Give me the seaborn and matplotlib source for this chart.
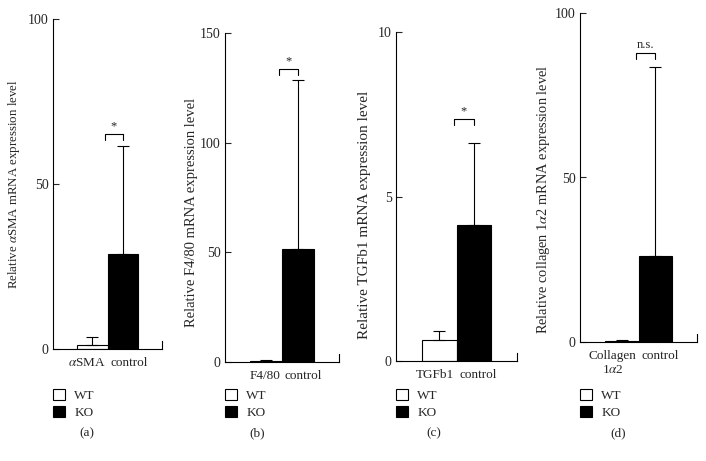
# ==========================================
# RELATIVE mRNA EXPRESSION: WT vs KO
# ==========================================

import numpy as np
import pandas as pd
import matplotlib
matplotlib.use("Agg")
import matplotlib.pyplot as plt
from matplotlib.patches import Patch
import seaborn as sns

# ==========================================
# DATA
# ==========================================

groups = ["WT", "KO"]

tick_labels = [
    ["$\\alpha$SMA", "control"],
    ["F4/80", "control"],
    ["TGFb1", "control"],
    ["Collagen\n1$\\alpha$2", "control"],
]

y_labels = [
    "Relative $\\alpha$SMA mRNA expression level",
    "Relative F4/80 mRNA expression level",
    "Relative TGFb1 mRNA expression level",
    "Relative collagen 1$\\alpha$2 mRNA expression level",
]

wt_mean = [1.3, 0.5, 0.64, 0.3]
wt_sd = [2.3, 0.4, 0.27, 0.3]

ko_mean = [28.8, 51.5, 4.13, 26.1]
ko_sd = [32.7, 77.1, 2.5, 57.5]

y_max = [100, 150, 10, 100]
y_step = [50, 50, 5, 50]

significance = ["*", "*", "*", "n.s."]
bracket_y = [65, 133.6, 7.35, 87.8]

panel_names = ["(a)", "(b)", "(c)", "(d)"]

# ==========================================
# STYLE
# ==========================================

sns.set_style("white")
plt.rcParams["font.family"] = ["Liberation Serif", "DejaVu Serif"]
plt.rcParams["mathtext.fontset"] = "stix"
plt.rcParams["font.size"] = 9.5

# ==========================================
# LAYOUT (pixel boxes of each panel, 706x461)
# ==========================================

W, H = 706, 461

# left, right, top, bottom of each axes in pixels
boxes = [
    (53, 162, 19, 349),
    (225, 339, 33, 362),
    (396, 517, 32, 361),
    (580, 697, 13, 342),
]

label_size = [9.3, 10.5, 11.0, 10.4]

label_pos = [
    (-0.285, 0.50),
    (-0.235, 0.455),
    (-0.205, 0.445),
    (-0.24, 0.435),
]

panel_x = [87, 257, 434, 618]

fig = plt.figure(figsize=(W / 100, H / 100), dpi=100)

for i in range(4):

    left, right, top, bottom = boxes[i]

    ax = fig.add_axes([
        left / W,
        1 - bottom / H,
        (right - left) / W,
        (bottom - top) / H
    ])

    df = pd.DataFrame({
        "group": groups,
        "value": [wt_mean[i], ko_mean[i]]
    })

    sns.barplot(
        data=df,
        x="group",
        y="value",
        hue="group",
        palette={"WT": "white", "KO": "black"},
        edgecolor="black",
        linewidth=0.8,
        width=1.0,
        errorbar=None,
        legend=False,
        ax=ax
    )

    # error bars (mean + SD, upper only)
    bars = ax.patches[:2]
    centers = [b.get_x() + b.get_width() / 2 for b in bars]

    ax.errorbar(
        centers,
        [wt_mean[i], ko_mean[i]],
        yerr=[[0, 0], [wt_sd[i], ko_sd[i]]],
        fmt="none",
        ecolor="black",
        elinewidth=0.8,
        capsize=4,
        capthick=0.8,
        zorder=3
    )

    # significance bracket
    ko_bar = bars[1]
    b_left = ko_bar.get_x() - 0.08 * ko_bar.get_width()
    b_right = centers[1]
    leg = y_max[i] * 0.018

    ax.plot(
        [b_left, b_left, b_right, b_right],
        [bracket_y[i] - leg, bracket_y[i], bracket_y[i], bracket_y[i] - leg],
        color="black",
        linewidth=0.8
    )

    ax.annotate(
        significance[i],
        xy=((b_left + b_right) / 2, bracket_y[i]),
        xytext=(0, 1.5),
        textcoords="offset points",
        ha="center",
        va="bottom",
        fontsize=9
    )

    # axes styling
    ticks = np.arange(0, y_max[i] + 1e-9, y_step[i])
    ax.set_xlim(-1.27, 2.27)
    ax.set_ylim(0, y_max[i])
    ax.set_yticks(ticks)
    ax.set_yticklabels([f"{int(v)}" for v in ticks])

    # the two words sit either side of the WT/KO boundary
    edge = ko_bar.get_x()
    ax.set_xticks([edge - 0.06, edge + 0.09])
    ax.set_xticklabels(tick_labels[i], va="top")
    xt = ax.get_xticklabels()
    xt[0].set_horizontalalignment("right")
    xt[0].set_multialignment("center")
    xt[1].set_horizontalalignment("left")

    ax.tick_params(axis="y", direction="in", length=4, width=0.8,
                   left=True, pad=3, labelsize=10)
    ax.tick_params(axis="x", length=0, pad=6, labelsize=9.5)

    ax.spines["top"].set_visible(False)
    ax.spines["right"].set_bounds(0, y_max[i] * 0.025)
    for side in ["left", "bottom", "right"]:
        ax.spines[side].set_linewidth(0.8)
        ax.spines[side].set_color("black")

    ax.set_xlabel("")
    ax.set_ylabel(y_labels[i], fontsize=label_size[i])
    ax.yaxis.set_label_coords(*label_pos[i])

    # legend below panel
    handles = [
        Patch(facecolor="white", edgecolor="black", linewidth=0.8, label="WT"),
        Patch(facecolor="black", edgecolor="black", linewidth=0.8, label="KO"),
    ]

    ax.legend(
        handles=handles,
        loc="upper left",
        bbox_to_anchor=(left / W, 1 - 389 / H),
        bbox_transform=fig.transFigure,
        frameon=False,
        handlelength=0.9,
        handleheight=0.9,
        handletextpad=0.7,
        labelspacing=0.3,
        borderpad=0,
        borderaxespad=0,
        fontsize=9.5
    )

    fig.text(panel_x[i] / W, 1 - 433 / H, panel_names[i],
             ha="center", va="center", fontsize=9.5)

plt.savefig("out.png", dpi=100)
